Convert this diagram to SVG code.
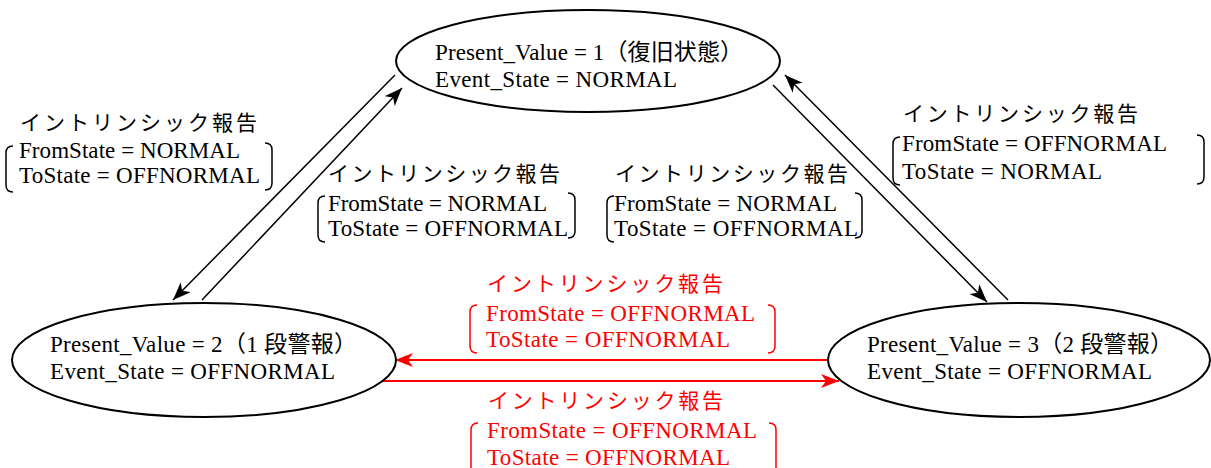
<svg xmlns="http://www.w3.org/2000/svg" width="1211" height="468" viewBox="0 0 1211 468">
<defs>
<marker id="ab" markerUnits="userSpaceOnUse" markerWidth="20" markerHeight="16" refX="18" refY="7" orient="auto">
<path d="M0,0 L18,7 L0,14 L5,7 z" fill="#000"/>
</marker>
<marker id="ar" markerUnits="userSpaceOnUse" markerWidth="20" markerHeight="16" refX="18" refY="7" orient="auto">
<path d="M0,0 L18,7 L0,14 L5,7 z" fill="#f00"/>
</marker>
</defs>
<style>
text{font-family:"Liberation Serif","Noto Sans CJK JP",serif;font-size:23px;fill:#000}
.j{font-family:"Noto Sans CJK JP",sans-serif;font-size:21px}
.r{fill:#f00}
.st{fill:#fff;stroke:#000;stroke-width:2}
.br{fill:none;stroke:#000;stroke-width:1.5}
.brr{fill:none;stroke:#f00;stroke-width:1.5}
.cb{stroke:#000;stroke-width:1.5;fill:none}
.cr{stroke:#f00;stroke-width:2;fill:none}
</style>
<g id="connectors">
<line class="cb" x1="395" y1="75" x2="173" y2="300" marker-end="url(#ab)"/>
<line class="cb" x1="202" y1="300" x2="402" y2="88" marker-end="url(#ab)"/>
<line class="cb" x1="1008" y1="300" x2="785" y2="75" marker-end="url(#ab)"/>
<line class="cb" x1="773" y1="85" x2="987" y2="302" marker-end="url(#ab)"/>
<line class="cr" x1="828" y1="360" x2="395" y2="360" marker-end="url(#ar)"/>
<line class="cr" x1="383" y1="381" x2="839" y2="381" marker-end="url(#ar)"/>
</g>
<g id="state1">
<ellipse class="st" cx="588" cy="61" rx="192" ry="51"/>
<text x="435" y="60" textLength="308" lengthAdjust="spacing">Present_Value = 1（復旧状態）</text>
<text x="435" y="87" textLength="242" lengthAdjust="spacing">Event_State = NORMAL</text>
</g>
<g id="state2">
<ellipse class="st" cx="204" cy="360" rx="192" ry="57"/>
<text x="50" y="352" textLength="307" lengthAdjust="spacing">Present_Value = 2（1 段警報）</text>
<text x="50" y="379" textLength="285" lengthAdjust="spacing">Event_State = OFFNORMAL</text>
</g>
<g id="state3">
<ellipse class="st" cx="1019" cy="360" rx="191" ry="57"/>
<text x="867" y="352" textLength="306" lengthAdjust="spacing">Present_Value = 3（2 段警報）</text>
<text x="867" y="379" textLength="285" lengthAdjust="spacing">Event_State = OFFNORMAL</text>
</g>
<g id="label1">
<text class="j" x="20" y="130" textLength="237" lengthAdjust="spacing">イントリンシック報告</text>
<text x="19" y="158" textLength="221" lengthAdjust="spacing">FromState = NORMAL</text>
<text x="19" y="183" textLength="241" lengthAdjust="spacing">ToState = OFFNORMAL</text>
<path class="br" d="M13,146 Q6,146 6,153 V185 Q6,192 13,192"/>
<path class="br" d="M265,143 Q272,143 272,150 V183 Q272,190 265,190"/>
</g>
<g id="label2">
<text class="j" x="328" y="181" textLength="232" lengthAdjust="spacing">イントリンシック報告</text>
<text x="328" y="211" textLength="219" lengthAdjust="spacing">FromState = NORMAL</text>
<text x="328" y="236" textLength="240" lengthAdjust="spacing">ToState = OFFNORMAL</text>
<path class="br" d="M325,196 Q318,196 318,203 V235 Q318,242 325,242"/>
<path class="br" d="M568,193 Q575,193 575,200 V231 Q575,238 568,238"/>
</g>
<g id="label3">
<text class="j" x="615" y="181" textLength="233" lengthAdjust="spacing">イントリンシック報告</text>
<text x="614" y="211" textLength="223" lengthAdjust="spacing">FromState = NORMAL</text>
<text x="614" y="236" textLength="244" lengthAdjust="spacing">ToState = OFFNORMAL</text>
<path class="br" d="M614,196 Q607,196 607,203 V235 Q607,242 614,242"/>
<path class="br" d="M855,193 Q862,193 862,200 V231 Q862,238 855,238"/>
</g>
<g id="label4">
<text class="j" x="903" y="121" textLength="235" lengthAdjust="spacing">イントリンシック報告</text>
<text x="902" y="151" textLength="265" lengthAdjust="spacing">FromState = OFFNORMAL</text>
<text x="902" y="179" textLength="200" lengthAdjust="spacing">ToState = NORMAL</text>
<path class="br" d="M900,137 Q893,137 893,144 V178 Q893,185 900,185"/>
<path class="br" d="M1197,135 Q1204,135 1204,142 V177 Q1204,184 1197,184"/>
</g>
<g id="label5">
<text class="j r" x="487" y="291" textLength="236" lengthAdjust="spacing">イントリンシック報告</text>
<text class="r" x="486" y="321" textLength="269" lengthAdjust="spacing">FromState = OFFNORMAL</text>
<text class="r" x="486" y="347" textLength="244" lengthAdjust="spacing">ToState = OFFNORMAL</text>
<path class="brr" d="M477,305 Q470,305 470,312 V346 Q470,353 477,353"/>
<path class="brr" d="M768,305 Q775,305 775,312 V346 Q775,353 768,353"/>
</g>
<g id="label6">
<text class="j r" x="488" y="408" textLength="235" lengthAdjust="spacing">イントリンシック報告</text>
<text class="r" x="487" y="438" textLength="270" lengthAdjust="spacing">FromState = OFFNORMAL</text>
<text class="r" x="487" y="465" textLength="243" lengthAdjust="spacing">ToState = OFFNORMAL</text>
<path class="brr" d="M478,423 Q471,423 471,430 V470"/>
<path class="brr" d="M769,423 Q776,423 776,430 V470"/>
</g>
</svg>
